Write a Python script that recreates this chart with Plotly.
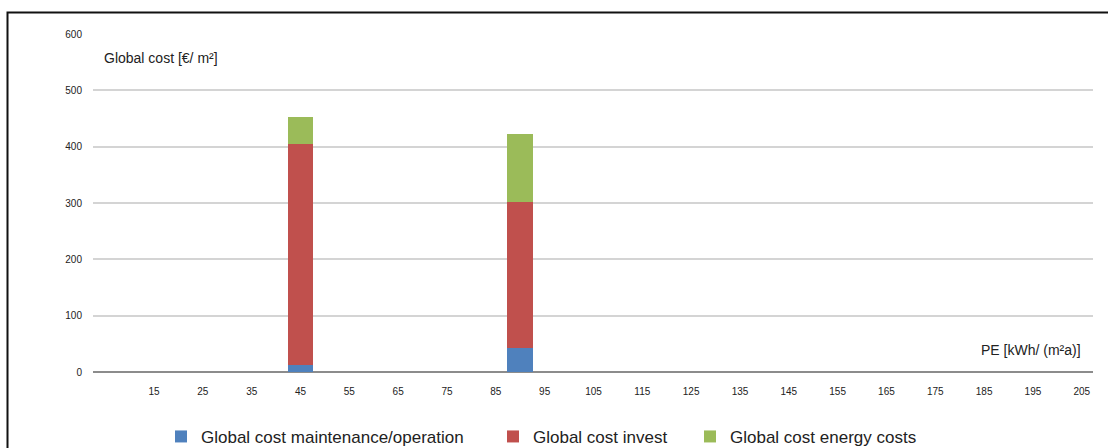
import plotly.graph_objects as go

# Data
pe_values = [45, 90]
maintenance = [12, 42]
invest = [393, 260]
energy = [47, 121]
x_ticks = [15, 25, 35, 45, 55, 65, 75, 85, 95, 105, 115, 125, 135, 145, 155, 165, 175, 185, 195, 205]
y_ticks = [0, 100, 200, 300, 400, 500, 600]

series = [
    ("Global cost maintenance/operation", maintenance, "#4f81bd", "legend"),
    ("Global cost invest", invest, "#c0504d", "legend2"),
    ("Global cost energy costs", energy, "#9bbb59", "legend3"),
]

fig = go.Figure()
for name, vals, color, lg in series:
    fig.add_trace(go.Bar(
        x=pe_values, y=vals, name=name, width=5.3, legend=lg, showlegend=True,
        marker=dict(color=color, line=dict(width=0)),
    ))

font_family = "Arial, Liberation Sans, sans-serif"

def legend_at(xp):
    return dict(
        orientation="h", x=xp, xanchor="left", y=-0.192, yanchor="middle",
        font=dict(size=17, color="#222222"), itemwidth=30,
        bgcolor="rgba(0,0,0,0)",
    )

fig.update_layout(
    barmode="stack",
    showlegend=True,
    width=1108, height=448,
    margin=dict(l=93, r=15, t=34, b=76, autoexpand=False),
    paper_bgcolor="white",
    plot_bgcolor="white",
    font=dict(family=font_family, color="#222222"),
    xaxis=dict(
        range=[2.5, 207.3],
        tickmode="array", tickvals=x_ticks, ticktext=[str(v) for v in x_ticks],
        showgrid=False, zeroline=False, showline=False,
        ticks="", ticklabelstandoff=12,
        tickfont=dict(size=10, color="#222222"),
    ),
    yaxis=dict(
        range=[0, 600],
        tickmode="array", tickvals=y_ticks,
        showgrid=True, gridcolor="#d4d4d4", gridwidth=2,
        zeroline=True, zerolinecolor="#8c8c8c", zerolinewidth=2,
        showline=False, ticks="", ticklabelstandoff=10,
        tickfont=dict(size=10, color="#222222"),
    ),
    legend=legend_at(0.068),
    legend2=legend_at(0.400),
    legend3=legend_at(0.597),
    annotations=[
        dict(text="Global cost [€/ m²]", xref="paper", yref="paper",
             x=0.009, y=0.93, xanchor="left", yanchor="middle",
             showarrow=False, font=dict(size=14, color="#222222")),
        dict(text="PE [kWh/ (m²a)]", xref="paper", yref="paper",
             x=0.99, y=0.065, xanchor="right", yanchor="middle",
             showarrow=False, font=dict(size=14, color="#222222")),
    ],
    shapes=[
        dict(type="rect", xref="paper", yref="paper",
             x0=-0.0855, x1=1.03, y0=-0.35, y1=1.0636,
             line=dict(color="#111111", width=2), layer="below"),
    ],
)

fig.write_html("out.html")
